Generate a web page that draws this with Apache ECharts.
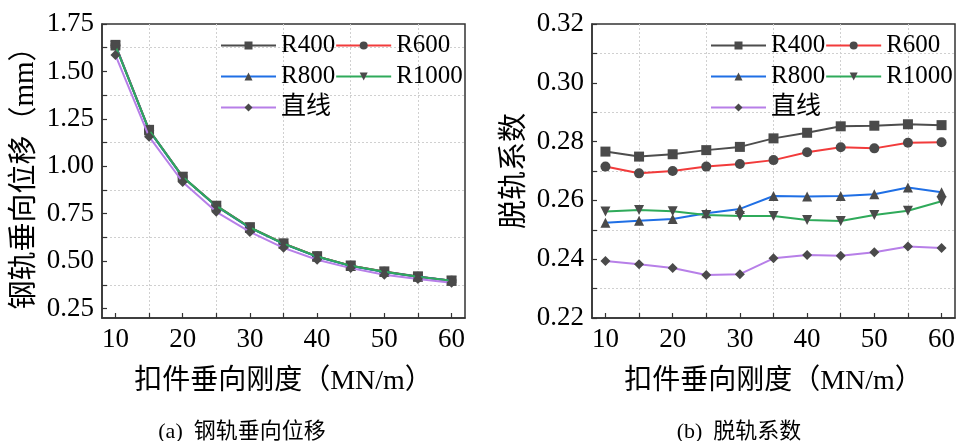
<!DOCTYPE html>
<html><head><meta charset="utf-8">
<script src="https://cdn.jsdelivr.net/npm/echarts@6/dist/echarts.min.js"></script>
<style>html,body{margin:0;padding:0;background:#fff}#c{width:957px;height:441px}</style>
</head><body><div id="c"></div>
<script>
const xValues = [10, 15, 20, 25, 30, 35, 40, 45, 50, 55, 60];
const seriesNames = ['R400', 'R600', 'R800', 'R1000', '直线'];
// (a) rail vertical displacement (mm)
const dispR400  = [1.640, 1.192, 0.945, 0.792, 0.678, 0.593, 0.525, 0.476, 0.445, 0.419, 0.397];
const dispR600  = [1.638, 1.190, 0.944, 0.790, 0.676, 0.592, 0.524, 0.475, 0.444, 0.418, 0.396];
const dispR800  = [1.636, 1.189, 0.943, 0.789, 0.675, 0.591, 0.523, 0.474, 0.443, 0.417, 0.396];
const dispR1000 = [1.634, 1.191, 0.944, 0.791, 0.677, 0.592, 0.524, 0.475, 0.444, 0.418, 0.397];
const dispLine  = [1.586, 1.156, 0.917, 0.760, 0.654, 0.570, 0.507, 0.463, 0.428, 0.406, 0.386];
// (b) derailment coefficient
const derR400  = [0.2766, 0.2749, 0.2757, 0.2771, 0.2782, 0.2811, 0.2830, 0.2852, 0.2854, 0.2859, 0.2856];
const derR600  = [0.2715, 0.2692, 0.2700, 0.2715, 0.2724, 0.2737, 0.2764, 0.2781, 0.2777, 0.2796, 0.2798];
const derR800  = [0.2524, 0.2531, 0.2537, 0.2556, 0.2571, 0.2615, 0.2613, 0.2615, 0.2621, 0.2644, 0.2628];
const derR1000 = [0.2562, 0.2567, 0.2563, 0.2550, 0.2547, 0.2547, 0.2533, 0.2530, 0.2550, 0.2565, 0.2597];
const derLine  = [0.2394, 0.2383, 0.2370, 0.2346, 0.2349, 0.2403, 0.2414, 0.2412, 0.2424, 0.2443, 0.2438];
// tick labels
const xLabelValues = [10, 20, 30, 40, 50, 60];
const xTickValues = [10, 15, 20, 25, 30, 35, 40, 45, 50, 55, 60];
const xGridValues = [15, 25, 35, 45, 55];
const leftYLabels = [0.25, 0.50, 0.75, 1.00, 1.25, 1.50, 1.75];
const leftYTicks = [0.25, 0.375, 0.50, 0.625, 0.75, 0.875, 1.00, 1.125, 1.25, 1.375, 1.50, 1.625, 1.75];
const leftYGrid = [0.375, 0.625, 0.875, 1.125, 1.375, 1.625];
const rightYLabels = [0.22, 0.24, 0.26, 0.28, 0.30, 0.32];
const rightYTicks = [0.22, 0.23, 0.24, 0.25, 0.26, 0.27, 0.28, 0.29, 0.30, 0.31, 0.32];
const rightYGrid = [0.23, 0.25, 0.27, 0.29, 0.31];
const xTitle = '扣件垂向刚度（MN/m）';
const leftYTitle = '钢轨垂向位移（mm）';
const rightYTitle = '脱轨系数';
const captions = ['(a)  钢轨垂向位移', '(b)  脱轨系数'];

const lineColors = ['#4d4d4d', '#f23b3b', '#1f6fe5', '#2faa5a', '#b77fe8'];
const symbols = ['rect', 'circle', 'triangle', 'triangle', 'diamond'];
const rotations = [0, 0, 0, 180, 0];
const FONT = 'Times New Roman, Liberation Serif, serif, Noto Sans CJK SC';
const AX = '#333';

const leftData = [dispR400, dispR600, dispR800, dispR1000, dispLine];
const rightData = [derR400, derR600, derR800, derR1000, derLine];

function mainX(gi) {
  return {
    type: 'value', gridIndex: gi, min: 8, max: 62, position: 'bottom',
    axisLine: {show: true, onZero: false, lineStyle: {color: AX, width: 1.5}},
    axisTick: {show: true, inside: true, length: 5, customValues: xTickValues, lineStyle: {color: AX, width: 1.2}},
    axisLabel: {customValues: xLabelValues, margin: 8, color: '#000', fontSize: 27, fontFamily: FONT},
    splitLine: {show: false},
    name: xTitle, nameLocation: 'middle', nameGap: 50,
    nameTextStyle: {color: '#000', fontSize: 28, fontFamily: FONT}
  };
}
function gridX(gi) {
  return {
    type: 'value', gridIndex: gi, min: 8, max: 62, position: 'top',
    axisLine: {show: false}, axisLabel: {show: false},
    axisTick: {show: false, customValues: xGridValues},
    splitLine: {show: true, lineStyle: {color: '#d0d0d0', type: [2, 2], width: 1}}
  };
}
function mainY(gi, min, max, labels, ticks, fmt, title) {
  return {
    type: 'value', gridIndex: gi, min: min, max: max, position: 'left',
    axisLine: {show: true, onZero: false, lineStyle: {color: AX, width: 1.5}},
    axisTick: {show: true, inside: true, length: 5, customValues: ticks, lineStyle: {color: AX, width: 1.2}},
    axisLabel: {customValues: labels, margin: 8, color: '#000', fontSize: 27, fontFamily: FONT,
      formatter: v => v.toFixed(fmt)},
    splitLine: {show: false},
    name: title, nameLocation: 'middle', nameGap: 62, nameRotate: 90,
    nameTextStyle: {color: '#000', fontSize: 29, fontFamily: FONT}
  };
}
function gridY(gi, min, max, vals) {
  return {
    type: 'value', gridIndex: gi, min: min, max: max, position: 'right',
    axisLine: {show: false}, axisLabel: {show: false},
    axisTick: {show: false, customValues: vals},
    splitLine: {show: true, lineStyle: {color: '#d0d0d0', type: [2, 2], width: 1}}
  };
}

const series = [];
[leftData, rightData].forEach((set, gi) => {
  set.forEach((vals, i) => {
    series.push({
      type: 'line', name: seriesNames[i],
      xAxisIndex: gi * 2, yAxisIndex: gi * 2,
      data: xValues.map((x, k) => [x, vals[k]]),
      symbol: symbols[i], symbolRotate: rotations[i], symbolSize: 10,
      itemStyle: {color: '#4a4a4a'},
      lineStyle: {color: lineColors[i], width: 2},
      z: 2 + i
    });
  });
});

function legends(left) {
  const rows = [['R400', 'R600'], ['R800', 'R1000'], ['直线']];
  const tops = [33, 64, 95];
  return rows.map((r, i) => ({
    data: r, left: left, top: tops[i], orient: 'horizontal', padding: 0,
    itemWidth: 55, itemHeight: 10, itemGap: 0,
    textStyle: {color: '#000', fontSize: 25, fontFamily: FONT, lineHeight: 24},
    selectedMode: false
  }));
}

const option = {
  backgroundColor: '#fff',
  animation: false,
  title: [
    {text: captions[0], left: 237, top: 416, textAlign: 'center',
     textStyle: {color: '#000', fontSize: 22, fontWeight: 'normal', fontFamily: FONT}},
    {text: captions[1], left: 734, top: 416, textAlign: 'center',
     textStyle: {color: '#000', fontSize: 22, fontWeight: 'normal', fontFamily: FONT}}
  ],
  grid: [
    {left: 102, top: 24, width: 363, height: 294, show: true, borderColor: AX, borderWidth: 1.5, containLabel: false, outerBoundsMode: 'none'},
    {left: 592, top: 24, width: 363, height: 294, show: true, borderColor: AX, borderWidth: 1.5, containLabel: false, outerBoundsMode: 'none'}
  ],
  xAxis: [mainX(0), gridX(0), mainX(1), gridX(1)],
  yAxis: [
    mainY(0, 0.2, 1.75, leftYLabels, leftYTicks, 2, leftYTitle),
    gridY(0, 0.2, 1.75, leftYGrid),
    mainY(1, 0.22, 0.32, rightYLabels, rightYTicks, 2, rightYTitle),
    gridY(1, 0.22, 0.32, rightYGrid)
  ],
  legend: legends(220).concat(legends(710)),
  series: series
};
const chart = echarts.init(document.getElementById('c'), null, {renderer: 'canvas'});
chart.setOption(option);
</script></body></html>
